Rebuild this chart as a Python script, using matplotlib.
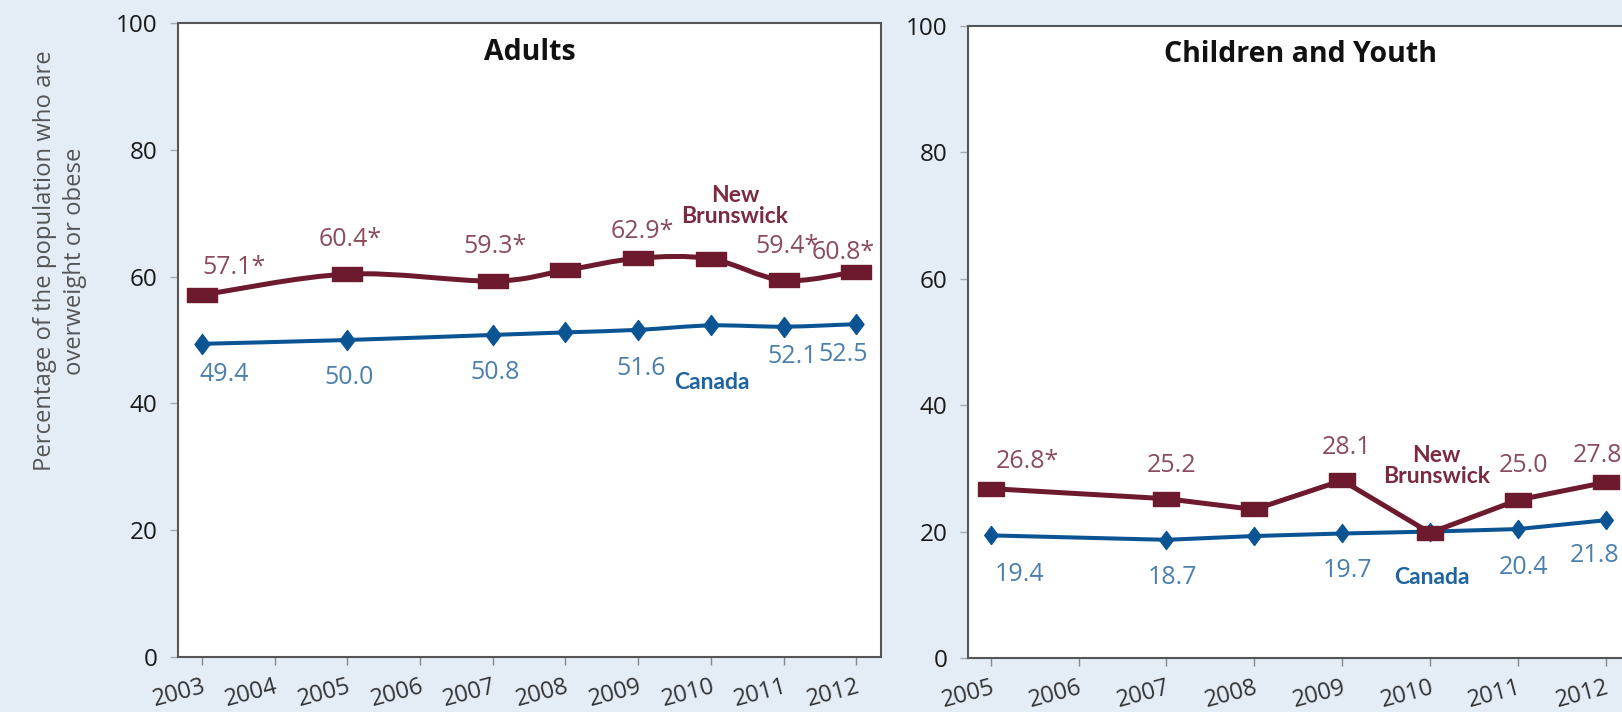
import matplotlib
matplotlib.use("Agg")
import matplotlib.pyplot as plt
from matplotlib.path import Path
from matplotlib.patches import PathPatch
import numpy as np

# ---------------- data ----------------
adult_years = [2003, 2005, 2007, 2008, 2009, 2010, 2011, 2012]
adult_nb = [57.1, 60.4, 59.3, 61.0, 62.9, 62.8, 59.4, 60.8]
adult_nb_labels = ["57.1*", "60.4*", "59.3*", None, "62.9*", None, "59.4*", "60.8*"]
adult_ca = [49.4, 50.0, 50.8, 51.2, 51.6, 52.3, 52.1, 52.5]
adult_ca_labels = ["49.4", "50.0", "50.8", None, "51.6", None, "52.1", "52.5"]
adult_xticks = list(range(2003, 2013))

child_years = [2005, 2007, 2008, 2009, 2010, 2011, 2012]
child_nb = [26.8, 25.2, 23.5, 28.1, 19.8, 25.0, 27.8]
child_nb_labels = ["26.8*", "25.2", None, "28.1", None, "25.0", "27.8"]
child_ca = [19.4, 18.7, 19.3, 19.7, 20.0, 20.4, 21.8]
child_ca_labels = ["19.4", "18.7", None, "19.7", None, "20.4", "21.8"]
child_xticks = list(range(2005, 2013))

yticks = [0, 20, 40, 60, 80, 100]
ylabel = "Percentage of the population who are\noverweight or obese"
titles = ["Adults", "Children and Youth"]
series_names = ["New\nBrunswick", "Canada"]

# ---------------- style ----------------
BG = "#E4ECF6"
NB_LINE = "#6E1A2E"
NB_TEXT = "#8A4C5C"
NB_NAME = "#7A2B40"
CA_LINE = "#0B5494"
CA_TEXT = "#4A7FAE"
CA_NAME = "#1D64A0"
SPINE = "#555555"
FONT = ["Open Sans", "DejaVu Sans"]
NARROW = ["Liberation Sans Narrow", "Lato", "DejaVu Sans"]

plt.rcParams["font.family"] = FONT

rect_marker = Path([(-1, -0.5), (1, -0.5), (1, 0.5), (-1, 0.5), (-1, -0.5)],
                   [Path.MOVETO, Path.LINETO, Path.LINETO, Path.LINETO, Path.CLOSEPOLY])
diam_marker = Path([(0, -1), (0.75, 0), (0, 1), (-0.75, 0), (0, -1)],
                   [Path.MOVETO, Path.LINETO, Path.LINETO, Path.LINETO, Path.CLOSEPOLY])


def smooth_path(xs, ys, k=1.0 / 6.0):
    xs = np.asarray(xs, float)
    ys = np.asarray(ys, float)
    n = len(xs)
    verts = [(xs[0], ys[0])]
    codes = [Path.MOVETO]
    for i in range(n - 1):
        p0 = np.array([xs[max(i - 1, 0)], ys[max(i - 1, 0)]])
        p1 = np.array([xs[i], ys[i]])
        p2 = np.array([xs[i + 1], ys[i + 1]])
        p3 = np.array([xs[min(i + 2, n - 1)], ys[min(i + 2, n - 1)]])
        c1 = p1 + (p2 - p0) * k
        c2 = p2 - (p3 - p1) * k
        verts += [tuple(c1), tuple(c2), tuple(p2)]
        codes += [Path.CURVE4] * 3
    return Path(verts, codes)


fig = plt.figure(figsize=(16.22, 7.12), dpi=100)
fig.patch.set_facecolor(BG)

W, H = 1622.0, 712.0
ax1 = fig.add_axes([178 / W, 1 - 657 / H, 703 / W, 634 / H])
ax2 = fig.add_axes([968 / W, 1 - 658 / H, 664 / W, 632 / H])


def setup(ax, xticks, xlim, title, title_y):
    ax.set_facecolor("white")
    ax.set_xlim(*xlim)
    ax.set_ylim(0, 100)
    ax.set_yticks(yticks)
    ax.set_yticklabels([str(t) for t in yticks], fontsize=17.5, color="#1a1a1a")
    ax.set_xticks(xticks)
    ax.set_xticklabels([str(t) for t in xticks], fontsize=17, color="#333333",
                       rotation=15, ha="right", rotation_mode="anchor", va="top")
    ax.tick_params(axis="y", length=6, width=1, color="#aaaaaa", pad=9)
    ax.tick_params(axis="x", length=6, width=1, color="#888888", pad=7)
    for s in ax.spines.values():
        s.set_color(SPINE)
        s.set_linewidth(1.5)
    ax.text(0.5, title_y, title, transform=ax.transAxes, ha="center", va="center",
            fontsize=20.5, fontweight="bold", color="#111111")


setup(ax1, adult_xticks, (2002.67, 2012.34), titles[0], 1 - 30 / 634)
setup(ax2, child_xticks, (2004.74, 2012.30), titles[1], 1 - 28 / 632)

# ---- Adults panel (smoothed lines) ----
ax1.add_patch(PathPatch(smooth_path(adult_years, adult_nb), fill=False,
                        edgecolor=NB_LINE, lw=3.6, capstyle="round", zorder=3))
ax1.add_patch(PathPatch(smooth_path(adult_years, adult_ca), fill=False,
                        edgecolor=CA_LINE, lw=2.9, capstyle="round", zorder=3))
ax1.plot(adult_years, adult_nb, linestyle="none", marker=rect_marker, markersize=21,
         color=NB_LINE, zorder=4)
ax1.plot(adult_years, adult_ca, linestyle="none", marker=diam_marker, markersize=14.4,
         color=CA_LINE, zorder=4)

adult_nb_off = [(32, 27), (3, 35), (2, 35), None, (4, 27), None, (3, 34), (-13, 19)]
adult_ca_off = [(22, -31), (2, -38), (2, -38), None, (3, -39), None, (9, -30), (-13, -30)]

# ---- Children panel (straight lines) ----
ax2.plot(child_years, child_nb, color=NB_LINE, lw=3.6, marker=rect_marker, markersize=19,
         zorder=4)
ax2.plot(child_years, child_ca, color=CA_LINE, lw=2.9, marker=diam_marker, markersize=13,
         zorder=3)

child_nb_off = [(37, 27), (5, 33), None, (4, 33), None, (6, 34), (-8, 27)]
child_ca_off = [(29, -39), (6, -38), None, (5, -37), None, (6, -38), (-11, -35)]


def label(ax, xs, ys, labels, offs, color):
    for x, y, t, o in zip(xs, ys, labels, offs):
        if t is None:
            continue
        ax.annotate(t, xy=(x, y), xytext=o, textcoords="offset pixels",
                    ha="center", va="center", fontsize=18, color=color, zorder=5,
                    annotation_clip=False)


label(ax1, adult_years, adult_nb, adult_nb_labels, adult_nb_off, NB_TEXT)
label(ax1, adult_years, adult_ca, adult_ca_labels, adult_ca_off, CA_TEXT)
label(ax2, child_years, child_nb, child_nb_labels, child_nb_off, NB_TEXT)
label(ax2, child_years, child_ca, child_ca_labels, child_ca_off, CA_TEXT)

# series names
ax1.text(2010.33, 71.2, series_names[0], ha="center", va="center", fontsize=16.5,
         fontweight="bold", color=NB_NAME, family=NARROW, linespacing=1.0)
ax1.text(2010.02, 43.3, series_names[1], ha="center", va="center", fontsize=16.5,
         fontweight="bold", color=CA_NAME, family=NARROW)
ax2.text(2010.07, 30.4, series_names[0], ha="center", va="center", fontsize=16.5,
         fontweight="bold", color=NB_NAME, family=NARROW, linespacing=1.0)
ax2.text(2010.02, 12.7, series_names[1], ha="center", va="center", fontsize=16.5,
         fontweight="bold", color=CA_NAME, family=NARROW)

fig.text(60 / W, 1 - 261 / H, ylabel, rotation=90, ha="center", va="center",
         fontsize=17.2, color="#555555", multialignment="center", linespacing=1.35)

fig.savefig("out.png", dpi=100, facecolor=BG)
